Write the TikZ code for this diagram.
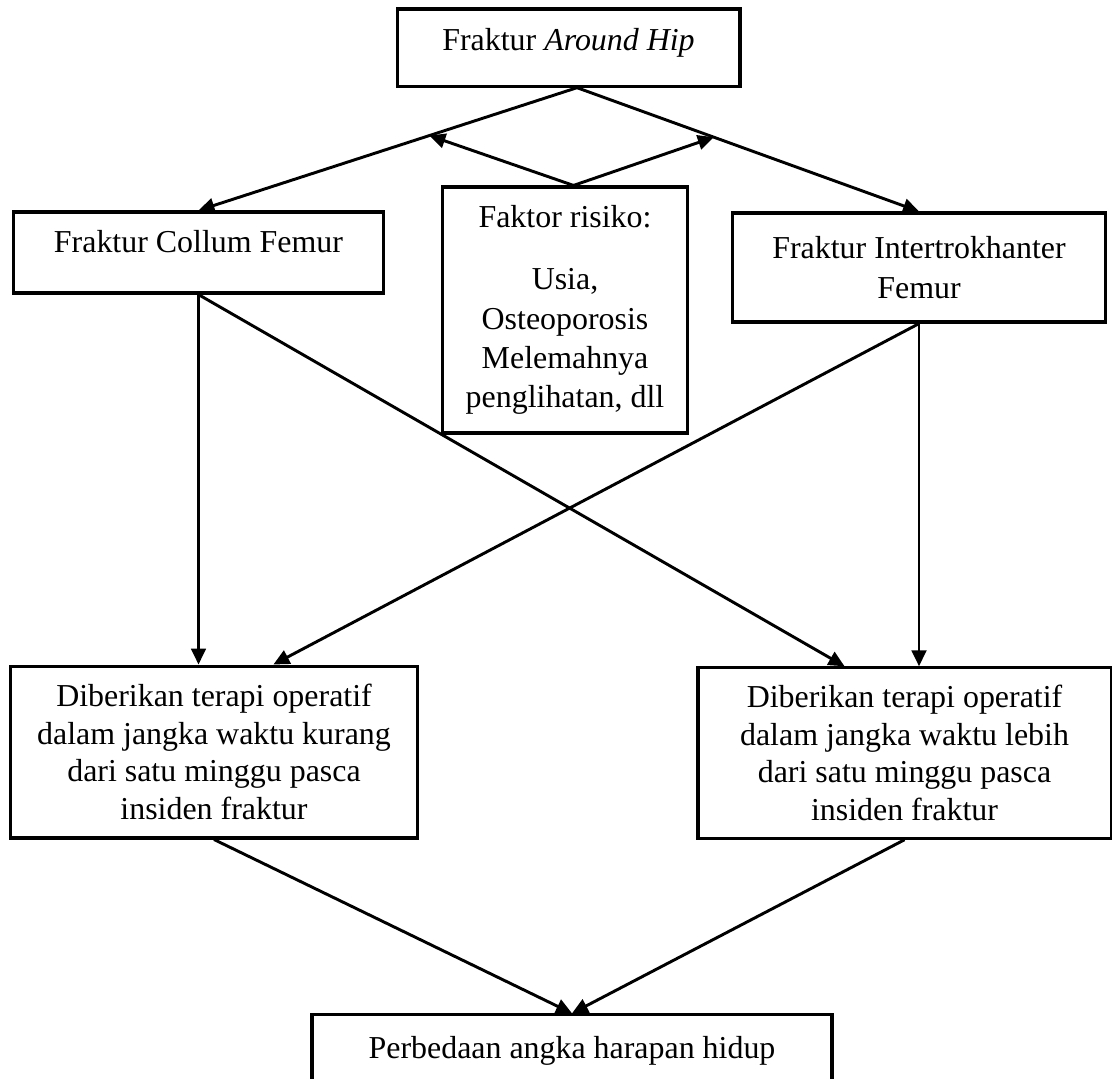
\documentclass[tikz,border=0pt]{standalone}
\usepackage{fontspec}
\setmainfont{Liberation Serif}
\usetikzlibrary{calc}
\usetikzlibrary{arrows.meta}

\tikzset{
  kotak/.style={draw, line width=1.2pt, align=center, inner sep=2pt,
    font=\fontsize{12}{14.2}\selectfont},
  panah/.style={line width=1.1pt, -{Triangle[length=6pt,width=5.5pt]}}
}

\begin{document}
\begin{tikzpicture}[x=.01322cm, y=-.01322cm]
\path[use as bounding box, clip] (0,0) rectangle (1112,1078);
\node[kotak, minimum width=4.53cm, minimum height=1.02cm, text height=8pt, text depth=6pt] (hip) at (568.5,47.5) {Fraktur \textit{Around Hip}};
\node[kotak, minimum width=4.88cm, minimum height=1.07cm, text height=8pt, text depth=8pt] (collum) at (198.5,252.5) {Fraktur Collum Femur};
\node[kotak, minimum width=3.23cm, minimum height=3.25cm, font=\fontsize{12}{14.8}\selectfont] (faktor) at (565,310) {Faktor risiko:\\[8.6pt] Usia,\\ Osteoporosis\\ Melemahnya\\ penglihatan, dll};
\node[kotak, minimum width=4.92cm, minimum height=1.44cm, font=\fontsize{12}{15}\selectfont] (intertro) at (919,267.5) {Fraktur Intertrokhanter\\ Femur};
\node[kotak, minimum width=5.37cm, minimum height=2.27cm] (kurang) at (214,752) {Diberikan terapi operatif\\ dalam jangka waktu kurang\\ dari satu minggu pasca\\ insiden fraktur};
\node[kotak, minimum width=5.46cm, minimum height=2.25cm] (lebih) at (904.5,753) {Diberikan terapi operatif\\ dalam jangka waktu lebih\\ dari satu minggu pasca\\ insiden fraktur};
\node[kotak, minimum width=6.87cm, minimum height=1.14cm, text height=8pt, text depth=8pt] (harapan) at (572,1058) {Perbedaan angka harapan hidup};

\coordinate (puncak) at ([xshift=3.2pt]hip.south);
\coordinate (atasfaktor) at ([xshift=3.2pt]faktor.north);
\coordinate (kiri) at ($(puncak)!0.39!(collum.north)$);
\coordinate (kanan) at ($(puncak)!0.40!(intertro.north)$);
\coordinate (masukkurang) at ($(kurang.north west)!0.645!(kurang.north east)$);
\coordinate (masuklebih) at ($(lebih.north west)!0.356!(lebih.north east)$);

\draw[panah] (puncak) -- (collum.north);
\draw[panah] (puncak) -- (intertro.north);
\draw[panah] (atasfaktor) -- (kiri);
\draw[panah] (atasfaktor) -- (kanan);
\draw[panah] (collum.south) -- (collum.south |- kurang.north);
\draw[panah] (collum.south) -- (masuklebih);
\draw[panah] (intertro.south) -- (intertro.south |- lebih.north);
\draw[panah] (intertro.south) -- (masukkurang);
\draw[panah] (kurang.south) -- (harapan.north);
\draw[panah] (lebih.south) -- (harapan.north);
\end{tikzpicture}
\end{document}
